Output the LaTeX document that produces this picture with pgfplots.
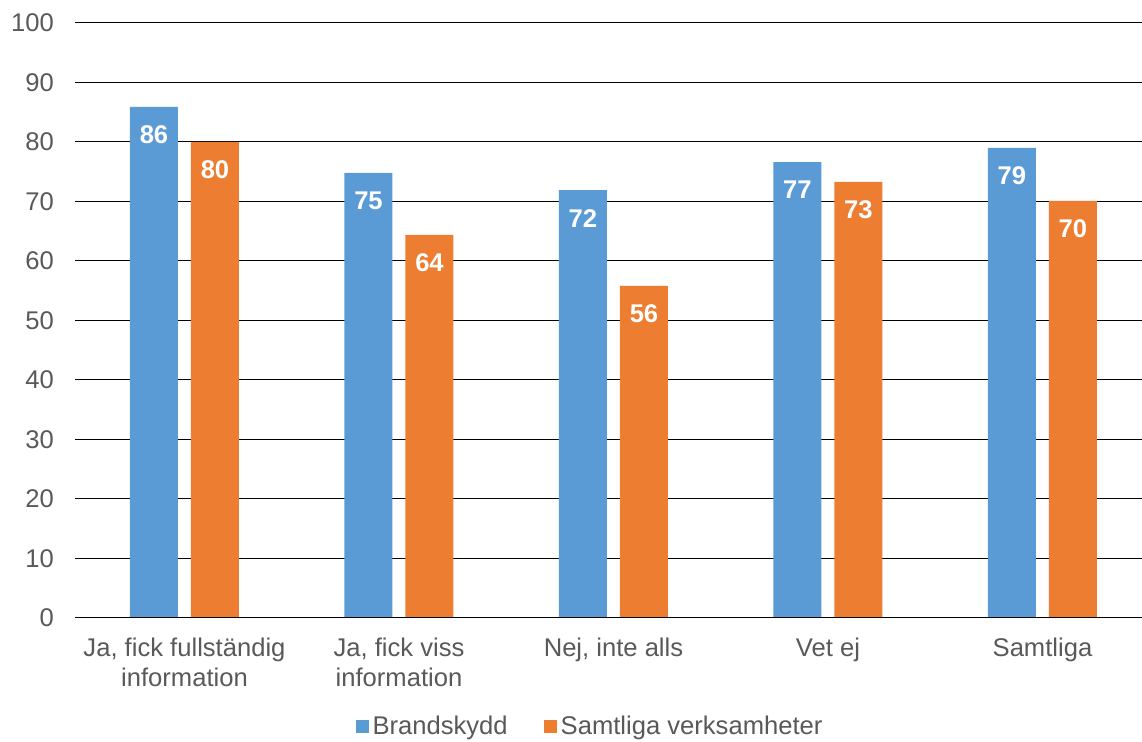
\documentclass[border=0pt]{standalone}
\usepackage{pgfplots}
\pgfplotsset{compat=1.18}
\usepackage{fontspec}
\setmainfont{Liberation Sans}
\definecolor{cblue}{HTML}{5B9BD5}
\definecolor{corange}{HTML}{ED7D31}
\definecolor{tgray}{HTML}{595959}
\begin{document}
\begin{tikzpicture}
\useasboundingbox (-37.5pt,-62pt) rectangle (533.5pt,309pt);
\begin{axis}[
  at={(0,0)}, anchor=south west,
  scale only axis,
  width=533.5pt, height=297.5pt,
  xmin=-0.5105, xmax=4.464,
  ymin=0, ymax=100,
  ytick={0,10,...,100},
  xtick={0,1,2,3,4},
  xticklabels={{Ja, fick fullständig\\information},{Ja, fick viss\\information},{Nej, inte alls},{Vet ej},{Samtliga}},
  xticklabel style={align=center, text=tgray, font=\fontsize{12.8}{15}\selectfont, yshift=-6.5pt},
  yticklabel style={text=tgray, font=\fontsize{12.8}{15}\selectfont, xshift=-7pt},
  /pgf/number format/assume math mode=true,
  axis line style={draw=none},
  major tick length=0pt,
  ymajorgrids,
  grid style={black, line width=0.5pt},
  axis on top=false,
  ybar, bar width=24pt, bar shift=0pt,
  legend style={at={(258pt,-54.5pt)}, anchor=center, draw=none, legend columns=2,
     font=\fontsize{12.8}{15}\selectfont, text=tgray,
     /tikz/every even column/.append style={column sep=16pt}},
  legend image code/.code={\fill[#1] (0pt,-3.2pt) rectangle (6.5pt,3.3pt);},
  nodes near coords,
  nodes near coords style={font=\bfseries\fontsize{12.8}{14}\selectfont, text=white, anchor=north, yshift=-6pt},
  /pgf/number format/.cd, fixed, precision=0, assume math mode=true,
]
\addplot[fill=cblue, draw=none, bar shift=-15.25pt] coordinates {(0,85.9) (1,74.8) (2,71.9) (3,76.6) (4,79.0)};
\addplot[fill=corange, draw=none, bar shift=15.25pt] coordinates {(0,80.0) (1,64.4) (2,55.8) (3,73.3) (4,70.1)};
\legend{Brandskydd, Samtliga verksamheter}
\draw[black, line width=1.2pt] (rel axis cs:0,0) -- (rel axis cs:1,0);
\end{axis}
\end{tikzpicture}
\end{document}
